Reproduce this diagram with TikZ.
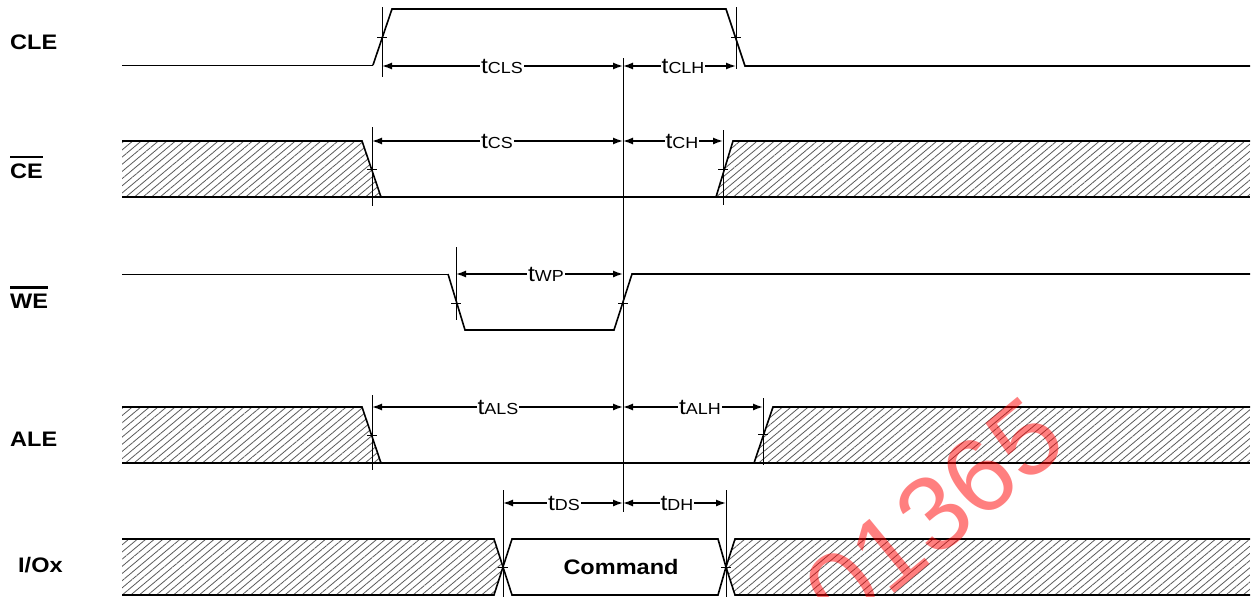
\documentclass[tikz,border=0pt]{standalone}
\usepackage{fontspec}
\setmainfont{Liberation Sans}[FakeStretch=1.12]
\newfontfamily\wmfont{Liberation Sans}
\usetikzlibrary{arrows.meta,patterns.meta,calc}
\newcommand{\tsub}[1]{{\fontsize{22}{22}\selectfont t}{\fontsize{16}{16}\selectfont #1}}
\begin{document}
\begin{tikzpicture}[x=1pt,y=-1pt,
  sig/.style={line width=1.6pt,line join=miter},
  thinsig/.style={line width=0.9pt},
  markline/.style={line width=0.8pt},
  dim/.style={line width=1.4pt,{Latex[length=10pt,width=7pt]}-{Latex[length=10pt,width=7pt]}},
  hatch/.style={pattern={Lines[angle=40,distance=5.5pt,line width=0.8pt]},pattern color=black!65},
  tlab/.style={fill=white,inner sep=1pt},
  sname/.style={font=\bfseries\fontsize{21}{21}\selectfont,anchor=west,inner sep=0pt}]
\useasboundingbox (0,0) rectangle (1251,597);

% ---------------- signal names
\node[sname] (nCLE) at (10,42) {CLE};
\node[sname] (nCE) at (10,171) {CE};
\node[sname] (nWE) at (10,301) {WE};
\node[sname] (nALE) at (10,439) {ALE};
\node[sname] (nIO) at (18,565) {I/Ox};
\draw[line width=2.2pt] ($(nCE.north west)+(0,-6)$) -- ($(nCE.north east)+(0,-6)$);
\draw[line width=2.2pt] ($(nWE.north west)+(0,-6)$) -- ($(nWE.north east)+(0,-6)$);

% ---------------- CLE
\draw[thinsig] (122,65) -- (373,65);
\draw[sig] (373,65) -- (392,9) -- (726,9) -- (745,66) -- (1250,66);

% ---------------- CE
\fill[hatch] (122,141) -- (362,141) -- (381,197) -- (122,197) -- cycle;
\fill[hatch] (733,141) -- (1250,141) -- (1250,197) -- (716,197) -- cycle;
\draw[sig] (122,141) -- (362,141) -- (381,197);
\draw[sig] (122,197) -- (1250,197);
\draw[sig] (716,197) -- (733,141) -- (1250,141);

% ---------------- WE
\draw[thinsig] (122,274) -- (448,274);
\draw[sig] (448,274) -- (465,330) -- (614,330) -- (632,274) -- (1250,274);

% ---------------- ALE
\fill[hatch] (122,407) -- (362,407) -- (381,463) -- (122,463) -- cycle;
\fill[hatch] (773,407) -- (1250,407) -- (1250,463) -- (754,463) -- cycle;
\draw[sig] (122,407) -- (362,407) -- (381,463);
\draw[sig] (122,463) -- (1250,463);
\draw[sig] (754,463) -- (773,407) -- (1250,407);

% ---------------- I/Ox
\fill[hatch] (122,539) -- (494,539) -- (503,567) -- (494,595) -- (122,595) -- cycle;
\fill[hatch] (735,539) -- (1250,539) -- (1250,595) -- (735,595) -- (726,567) -- cycle;
\draw[sig] (122,539) -- (494,539) -- (503,567) -- (494,595) -- (122,595);
\draw[sig] (1250,539) -- (735,539) -- (726,567) -- (735,595) -- (1250,595);
\draw[sig] (503,567) -- (512,539) -- (718,539) -- (726,567) -- (718,595) -- (512,595) -- cycle;
\node[font=\bfseries\fontsize{21}{21}\selectfont] (cmd) at (621,567) {Command};

% ---------------- marker lines (named coordinates)
\coordinate (m1t) at (382,7);   \coordinate (m1b) at (382,77);
\coordinate (m2t) at (736,7);   \coordinate (m2b) at (736,69);
\coordinate (m3t) at (372,127); \coordinate (m3b) at (372,206);
\coordinate (m4t) at (723,130); \coordinate (m4b) at (723,205);
\coordinate (m5t) at (456,247); \coordinate (m5b) at (456,320);
\coordinate (m6t) at (372,395); \coordinate (m6b) at (372,470);
\coordinate (m7t) at (763,398); \coordinate (m7b) at (763,465);
\coordinate (m8t) at (503,490); \coordinate (m8b) at (503,597);
\coordinate (m9t) at (726,490); \coordinate (m9b) at (726,597);
\coordinate (mct) at (623,58);  \coordinate (mcb) at (623,512);
\foreach \m in {1,...,9,c} \draw[markline] (m\m t) -- (m\m b);

% crossing ticks
\foreach \x/\y in {382/37,736/37,372/169,723/169,456/303,623/303,372/435,763/434,503/567,726/567}
  \draw[markline] (\x-5,\y) -- (\x+5,\y);

% ---------------- dimension arrows
\coordinate (a1) at (382,66);  \coordinate (a2) at (623,66);  \coordinate (a3) at (736,66);
\coordinate (b1) at (372,141); \coordinate (b2) at (623,141); \coordinate (b3) at (723,141);
\coordinate (c1) at (456,274); \coordinate (c2) at (623,274);
\coordinate (d1) at (372,407); \coordinate (d2) at (623,407); \coordinate (d3) at (763,407);
\coordinate (e1) at (503,503); \coordinate (e2) at (623,503); \coordinate (e3) at (726,503);
\draw[dim] (a1) -- (a2);
\draw[dim] (a2) -- (a3);
\draw[dim] (b1) -- (b2);
\draw[dim] (b2) -- (b3);
\draw[dim] (c1) -- (c2);
\draw[dim] (d1) -- (d2);
\draw[dim] (d2) -- (d3);
\draw[dim] (e1) -- (e2);
\draw[dim] (e2) -- (e3);

\node[tlab] (tCLS) at (502,66) {\tsub{CLS}};
\node[tlab] (tCLH) at (683,66) {\tsub{CLH}};
\node[tlab] (tCS)  at (497,141) {\tsub{CS}};
\node[tlab] (tCH)  at (682,141) {\tsub{CH}};
\node[tlab] (tWP)  at (546,274) {\tsub{WP}};
\node[tlab] (tALS) at (498,407) {\tsub{ALS}};
\node[tlab] (tALH) at (700,407) {\tsub{ALH}};
\node[tlab] (tDS)  at (564,503) {\tsub{DS}};
\node[tlab] (tDH)  at (677,503) {\tsub{DH}};

% ---------------- watermark
\node[text=red,opacity=0.5,rotate=39.5,font=\wmfont\fontsize{106}{106}\selectfont,inner sep=0pt] (wm) at (934,514) {01365};
\end{tikzpicture}
\end{document}
